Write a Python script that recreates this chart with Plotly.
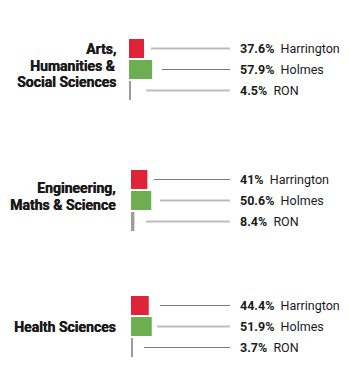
import plotly.graph_objects as go

# ---- data ----
groups = [["Arts,", "Humanities &", "Social Sciences"],
          ["Engineering,", "Maths & Science"],
          ["Health Sciences"]]
series = ["Harrington", "Holmes", "RON"]
harrington = [37.6, 41.0, 44.4]
holmes = [57.9, 50.6, 51.9]
ron = [4.5, 8.4, 3.7]
values = [harrington, holmes, ron]

# ---- style / layout ----
W, H = 349, 378
PX_PER_UNIT = 0.4
ORIGIN_PX = 131
colors = ["#DF2439", "#6DAE50", "#9C9C9C"]
group_center_px = [48.5, 179.5, 305.5]   # centre of first bar in each group
bar_pitch = 21
bar_h = 19
group_shift_px = [-2, 0, 0]
leader_start_px = [[22, 33, 17], [23, 29, 15], [29, 26, 13]]
leader_dark = [[False, True, False], [True, False, False], [True, False, True]]
leader_end_px = 230
label_px = 238
text_color = "#1A1A1A"
FONT = "Roboto"
cat_line_h = 16.5

def px_to_x(p):
    return (p - ORIGIN_PX) / PX_PER_UNIT

fig = go.Figure()
for s, name in enumerate(series):
    ys = [group_center_px[g] + s * bar_pitch for g in range(len(groups))]
    bases = [group_shift_px[g] / PX_PER_UNIT for g in range(len(groups))]
    fig.add_trace(go.Bar(
        x=values[s], y=ys, base=bases, orientation="h", width=bar_h,
        marker=dict(color=colors[s], line=dict(width=0)),
        name=name, showlegend=False, hoverinfo="skip"))

shapes = []
annotations = []
for g, glines in enumerate(groups):
    for s, name in enumerate(series):
        y = group_center_px[g] + s * bar_pitch
        x0 = px_to_x(ORIGIN_PX + group_shift_px[g] + leader_start_px[g][s])
        dark = leader_dark[g][s]
        shapes.append(dict(type="line", xref="x", yref="y",
                           x0=x0, x1=px_to_x(leader_end_px), y0=y, y1=y,
                           line=dict(color="#7A7A7A" if dark else "#BDBDBD",
                                     width=1 if dark else 2)))
        v = values[s][g]
        vtxt = f"{v:g}%"
        annotations.append(dict(
            x=px_to_x(label_px), y=y, xref="x", yref="y",
            text=f"<b>{vtxt}</b>&nbsp; {name}", showarrow=False,
            xanchor="left", yanchor="middle",
            font=dict(family=FONT, size=12.5, color=text_color)))
    n = len(glines)
    mid = group_center_px[g] + bar_pitch - (4 if n > 1 else 0)
    for i, line in enumerate(glines):
        annotations.append(dict(
            x=px_to_x(118), y=mid + (i - (n - 1) / 2) * cat_line_h,
            xref="x", yref="y",
            text=f"<b>{line}</b>", showarrow=False,
            xanchor="right", yanchor="middle",
            font=dict(family=FONT, size=14, color=text_color,
                      shadow="0.45px 0 0 #1A1A1A")))

fig.update_layout(
    width=W, height=H,
    margin=dict(l=0, r=0, t=0, b=0),
    paper_bgcolor="white", plot_bgcolor="white",
    barmode="overlay",
    xaxis=dict(range=[px_to_x(0), px_to_x(W)], visible=False, fixedrange=True),
    yaxis=dict(range=[H, 0], visible=False, fixedrange=True),
    shapes=shapes, annotations=annotations,
)

fig.write_html("out.html")
